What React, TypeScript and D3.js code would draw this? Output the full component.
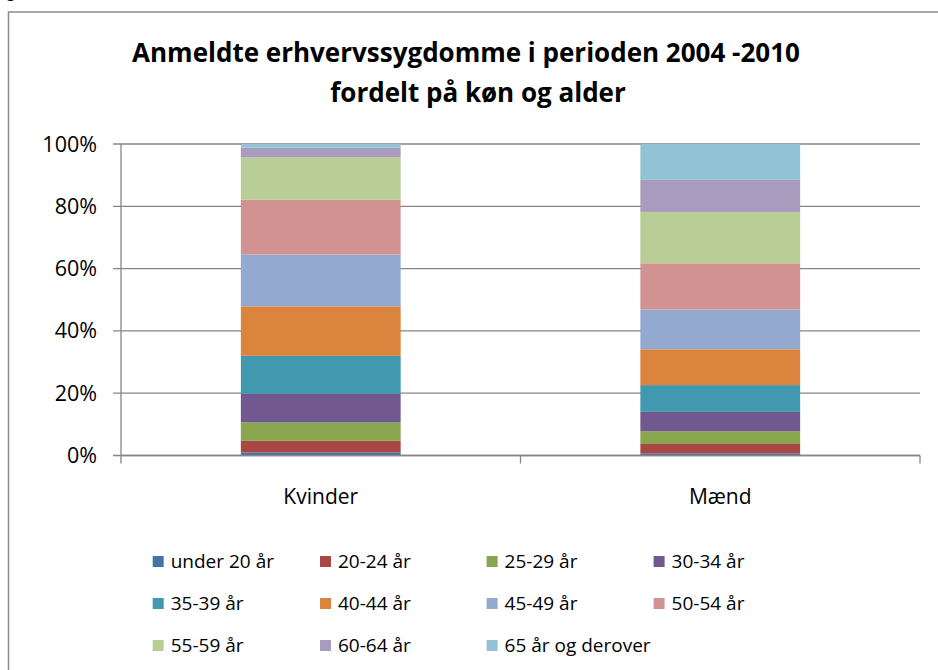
import React from "react";
import * as d3 from "d3";

const categories = ["Kvinder", "Mænd"];
const ageGroups = [
  "under 20 år", "20-24 år", "25-29 år", "30-34 år", "35-39 år", "40-44 år",
  "45-49 år", "50-54 år", "55-59 år", "60-64 år", "65 år og derover",
];
const kvinderValues = [1.0, 3.7, 5.9, 9.2, 12.2, 15.9, 16.6, 17.6, 13.6, 3.1, 1.2];
const maendValues = [0.7, 3.0, 4.1, 6.2, 8.6, 11.5, 12.8, 14.8, 16.5, 10.3, 11.5];
const seriesColors = [
  "#4572A7", "#AA4643", "#89A54E", "#71588F", "#4198AF", "#DB843D",
  "#93A9CF", "#D19392", "#B9CD96", "#A99BBD", "#92C3D5",
];
const yTickValues = [0, 0.2, 0.4, 0.6, 0.8, 1.0];
const titleLines = ["Anmeldte erhvervssygdomme i perioden 2004 -2010", "fordelt på køn og alder"];

const W = 938;
const H = 670;
const plot = { left: 121, right: 920, top: 144, bottom: 455.5 };
const FONT = "'Open Sans', 'Noto Sans', sans-serif";
const GRID = "#868686";

export default function App() {
  const table = categories.map((c, i) => {
    const row: any = { category: c };
    const vals = i === 0 ? kvinderValues : maendValues;
    ageGroups.forEach((g, j) => (row[g] = vals[j]));
    return row;
  });
  const stacked = d3.stack<any>().keys(ageGroups).offset(d3.stackOffsetExpand)(table);

  const x = d3
    .scaleBand<string>()
    .domain(categories)
    .range([plot.left, plot.right])
    .paddingInner(0.6)
    .paddingOuter(0.3);
  const y = d3.scaleLinear().domain([0, 1]).range([plot.bottom, plot.top]);
  const fmt = d3.format(".0%");

  const step = (plot.right - plot.left) / categories.length;
  const xTickPos = d3.range(categories.length + 1).map((i) => plot.left + i * step);

  const legendCols = [152.7, 320, 486.6, 653.6];
  const legendRows = [568, 610, 652];
  const titleCenters = [466, 478];

  return (
    <svg
      width={W}
      height={H}
      style={{ position: "absolute", left: 0, top: 0, background: "#fff" }}
      fontFamily={FONT}
    >
      <rect x={0} y={0} width={W} height={H} fill="#fff" />
      <text x={5} y={-3} fontSize={18} fontWeight="bold" fill="#000" fontFamily="'Liberation Sans', sans-serif">g</text>
      <rect x={8.5} y={12} width={1000} height={1000} fill="none" stroke="#8c8c8c" strokeWidth={1.5} />

      {titleLines.map((t, i) => (
        <text
          key={i}
          x={titleCenters[i]}
          y={62 + i * 40}
          textAnchor="middle"
          fontSize={26}
          fontWeight="bold"
          fill="#000"
        >
          {t}
        </text>
      ))}

      {yTickValues.map((v) => (
        <g key={v}>
          <line x1={plot.left - 8} x2={plot.right} y1={y(v)} y2={y(v)} stroke={GRID} strokeWidth={1.3} />
          <text x={97} y={y(v) + 7.5} textAnchor="end" fontSize={21.5} fill="#000">
            {fmt(v)}
          </text>
        </g>
      ))}

      {stacked.map((s, si) => (
        <g key={s.key} fill={seriesColors[si]}>
          {s.map((d, di) => (
            <rect
              key={di}
              x={x(categories[di])}
              width={x.bandwidth()}
              y={y(d[1])}
              height={y(d[0]) - y(d[1])}
            />
          ))}
        </g>
      ))}

      <line x1={plot.left} x2={plot.left} y1={plot.top} y2={plot.bottom} stroke={GRID} strokeWidth={1.3} />
      <line x1={plot.left} x2={plot.right} y1={plot.bottom} y2={plot.bottom} stroke={GRID} strokeWidth={1.5} />
      {xTickPos.map((p, i) => (
        <line key={i} x1={p} x2={p} y1={plot.bottom} y2={plot.bottom + 8} stroke={GRID} strokeWidth={1.3} />
      ))}
      {categories.map((c) => (
        <text key={c} x={(x(c) as number) + x.bandwidth() / 2} y={504} textAnchor="middle" fontSize={21} fill="#000">
          {c}
        </text>
      ))}

      {ageGroups.map((g, i) => {
        const cx = legendCols[i % 4];
        const cy = legendRows[Math.floor(i / 4)];
        return (
          <g key={g}>
            <rect x={cx} y={cy - 12} width={11} height={11} fill={seriesColors[i]} />
            <text x={cx + 18} y={cy} fontSize={19} fill="#000">
              {g}
            </text>
          </g>
        );
      })}
    </svg>
  );
}
